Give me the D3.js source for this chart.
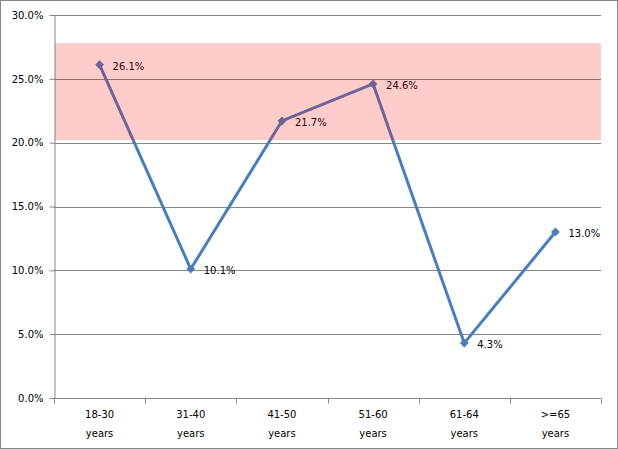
<!DOCTYPE html>
<html><head><meta charset="utf-8">
<script src="https://cdn.jsdelivr.net/npm/d3@7"></script>
<style>body{margin:0;background:#fff}svg{display:block}text{font-family:"DejaVu Sans",Verdana,sans-serif;font-size:10px;fill:#000}</style>
</head><body><svg id="c" width="618" height="449"></svg>
<script>
const categories = ["18-30 years","31-40 years","41-50 years","51-60 years","61-64 years",">=65 years"];
const values = [26.1, 10.1, 21.7, 24.6, 4.3, 13.0];
const yTicks = [0,5,10,15,20,25,30];
const bandRange = [20.2, 27.8];

const svg = d3.select("#c");
const m = {l:54, r:601, t:15, b:398};
svg.append("rect").attr("x",0.5).attr("y",0.5).attr("width",617).attr("height",448).attr("fill","#fff").attr("stroke","#868686");

const x = d3.scaleBand().domain(categories).range([m.l,m.r]);
const y = d3.scaleLinear().domain([0,30]).range([m.b,m.t]);

// grid
svg.append("g").selectAll("line").data(yTicks.filter(d=>d>0)).join("line")
  .attr("x1",m.l).attr("x2",m.r).attr("y1",d=>Math.round(y(d))+0.5).attr("y2",d=>Math.round(y(d))+0.5)
  .attr("stroke","#868686");

// y axis
const ya = svg.append("g").attr("transform",`translate(${m.l+0.5},0)`)
  .call(d3.axisLeft(y).tickValues(yTicks).tickFormat(d=>d.toFixed(1)+"%").tickSize(5).tickPadding(6).tickSizeOuter(0));
ya.selectAll("line,path").attr("stroke","#868686");
ya.selectAll("text").style("font-family","DejaVu Sans, Verdana, sans-serif").style("font-size","10px").attr("fill","#000");

// x axis
const xa = svg.append("g").attr("transform",`translate(0,${m.b+0.5})`);
xa.append("line").attr("x1",m.l).attr("x2",m.r).attr("stroke","#868686");
const bounds = d3.range(categories.length+1).map(i=>m.l+i*x.bandwidth());
xa.selectAll("line.t").data(bounds).join("line").attr("class","t")
  .attr("x1",d=>Math.round(d)+0.5).attr("x2",d=>Math.round(d)+0.5).attr("y1",0).attr("y2",5).attr("stroke","#868686");
const lbl = xa.selectAll("text").data(categories).join("text")
  .attr("text-anchor","middle").attr("x",d=>x(d)+x.bandwidth()/2);
lbl.append("tspan").attr("x",d=>x(d)+x.bandwidth()/2).attr("y",19).text(d=>d.split(" ")[0]);
lbl.append("tspan").attr("x",d=>x(d)+x.bandwidth()/2).attr("y",38).text(d=>d.split(" ")[1]);

// line
const pts = categories.map((c,i)=>[x(c)+x.bandwidth()/2, y(values[i])]);
svg.append("path").datum(pts).attr("d",d3.line()).attr("fill","none").attr("stroke","#4a7ebb").attr("stroke-width",3).attr("stroke-linejoin","round");
svg.append("g").selectAll("path").data(pts).join("path")
  .attr("transform",d=>`translate(${d[0]},${d[1]})`)
  .attr("d",d3.symbol(d3.symbolDiamond2,50)).attr("fill","#4a7ebb");

// labels
svg.append("g").selectAll("text").data(values).join("text")
  .attr("x",(d,i)=>pts[i][0]+13).attr("y",(d,i)=>pts[i][1]+5).text(d=>d.toFixed(1)+"%");

// band overlay
svg.append("rect").attr("x",m.l+1).attr("width",m.r-m.l-1)
  .attr("y",y(bandRange[1])).attr("height",y(bandRange[0])-y(bandRange[1]))
  .attr("fill","rgba(255,0,0,0.2)");
</script></body></html>
